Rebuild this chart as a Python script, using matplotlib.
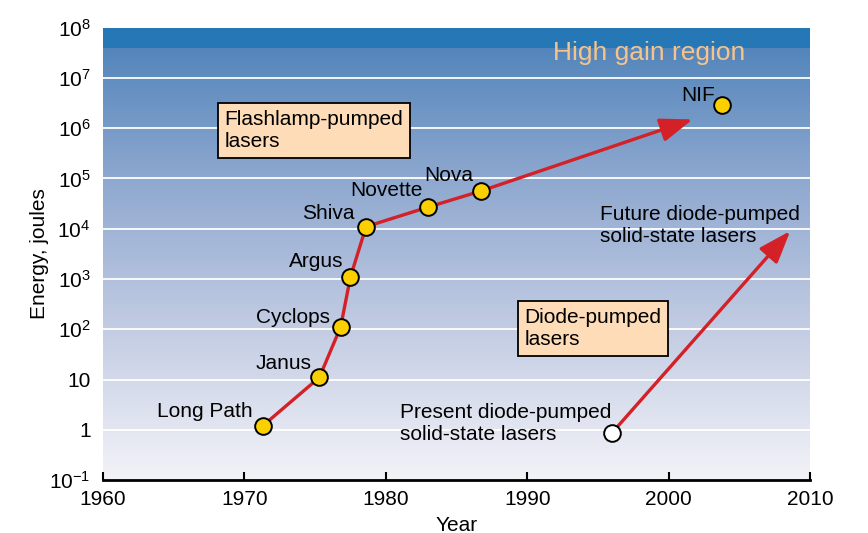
import matplotlib
matplotlib.use("Agg")
import matplotlib.pyplot as plt
import matplotlib.colors as mcolors
import numpy as np

plt.rcParams['font.family'] = ['Liberation Sans', 'DejaVu Sans']
plt.rcParams['mathtext.fontset'] = 'custom'
plt.rcParams['mathtext.rm'] = 'Liberation Sans'
plt.rcParams['mathtext.it'] = 'Liberation Sans:italic'
plt.rcParams['mathtext.bf'] = 'Liberation Sans:bold'

# flashlamp-pumped lasers
lasers = ['Long Path', 'Janus', 'Cyclops', 'Argus', 'Shiva', 'Novette', 'Nova']
years = [1971.3, 1975.3, 1976.8, 1977.5, 1978.6, 1983.0, 1986.7]
energy = [1.2, 11, 110, 1100, 1.1e4, 2.7e4, 5.6e4]
# label offsets in pixels from the point
label_dx = [-10, -8, -11, -7, -11, -6, -7]
label_dy = [14, 14, 10, 15, 13, 17, 16]

# NIF and the trend arrow
nif_year, nif_energy = 2003.8, 2.9e6
flash_arrow_end = (2001.7, 1.5e6)

# diode-pumped
diode_year, diode_energy = 1996.0, 0.87
diode_arrow_end = (2008.6, 9.0e3)

xticks = [1960, 1970, 1980, 1990, 2000, 2010]
yticks = [1e-1, 1, 10, 1e2, 1e3, 1e4, 1e5, 1e6, 1e7, 1e8]
ytick_labels = ['$10^{-1}$', '1', '10', '$10^2$', '$10^3$', '$10^4$',
                '$10^5$', '$10^6$', '$10^7$', '$10^8$']
high_gain_from = 4e7

red = '#d42027'
yellow = '#fcd000'
peach = '#fddcb7'

fig = plt.figure(figsize=(8.68, 5.33), dpi=100)
ax = fig.add_axes([0.1187, 0.0994, 0.8145, 0.8486])
ax.set_yscale('log')
ax.set_xlim(1960, 2010)
ax.set_ylim(1e-1, 1e8)

# background gradient
cmap = mcolors.LinearSegmentedColormap.from_list(
    'bg', ['#f3f3f8', '#c3cce3', '#8ea8cf', '#4a80b8'])
grad = np.linspace(0, 1, 256).reshape(-1, 1)
ax.imshow(grad, cmap=cmap, origin='lower', aspect='auto',
          extent=[0, 1, 0, 1], transform=ax.transAxes, zorder=0)
ax.axhspan(high_gain_from, 1e8, color='#2577b5', zorder=0.5, lw=0)

for y in yticks[1:-1]:
    ax.axhline(y, color='white', lw=1.3, zorder=1)

# flashlamp line
ax.plot(years, energy, color=red, lw=2.4, zorder=3)
arrow = dict(arrowstyle='-|>,head_length=1.1,head_width=0.4',
             color=red, lw=2.4, shrinkA=0, shrinkB=0, mutation_scale=18)
ax.annotate('', xy=flash_arrow_end, xytext=(years[-1], energy[-1]),
            arrowprops=arrow, zorder=3)
ax.annotate('', xy=diode_arrow_end, xytext=(diode_year, diode_energy),
            arrowprops=arrow, zorder=3)

ax.plot(years, energy, 'o', ms=12, mfc=yellow, mec='black', mew=1.4, zorder=4)
ax.plot([nif_year], [nif_energy], 'o', ms=12, mfc=yellow, mec='black', mew=1.4, zorder=4)
ax.plot([diode_year], [diode_energy], 'o', ms=12, mfc='white', mec='black', mew=1.4, zorder=4)

fs = 15
for name, x, y, dx, dy in zip(lasers, years, energy, label_dx, label_dy):
    ax.annotate(name, (x, y), xytext=(dx, dy), textcoords='offset pixels',
                ha='right', va='center', fontsize=fs, zorder=5)
ax.annotate('NIF', (nif_year, nif_energy), xytext=(-7, 9), textcoords='offset pixels',
            ha='right', va='center', fontsize=fs, zorder=5)
ax.annotate('Present diode-pumped\nsolid-state lasers', (diode_year, diode_energy),
            xytext=(-1, 9), textcoords='offset pixels', ha='right', va='center',
            multialignment='left', fontsize=fs, zorder=5)
ax.annotate('Future diode-pumped\nsolid-state lasers', diode_arrow_end,
            xytext=(10, 6), textcoords='offset pixels', ha='right', va='center',
            multialignment='left', fontsize=fs, zorder=5)

ax.text(1998.6, 10**7.5, 'High gain region', color='#f5c48c', fontsize=19,
        ha='center', va='center', zorder=5)

box = dict(boxstyle='square,pad=0.33', fc=peach, ec='black', lw=1.3)
ax.text(1968.6, 10**5.96, 'Flashlamp-pumped\nlasers', fontsize=fs, ha='left',
        va='center', bbox=box, zorder=5)
ax.text(1989.8, 10**2.02, 'Diode-pumped\nlasers', fontsize=fs, ha='left',
        va='center', bbox=box, zorder=5)

ax.set_xticks(xticks)
ax.set_yticks(yticks)
ax.set_yticklabels(ytick_labels)
ax.minorticks_off()
ax.tick_params(axis='x', direction='in', length=6, width=1.5, pad=7, labelsize=fs)
ax.tick_params(axis='y', length=0, pad=9, labelsize=fs)
for s in ['left', 'right', 'top']:
    ax.spines[s].set_visible(False)
ax.spines['bottom'].set_linewidth(2)
ax.spines['bottom'].set_zorder(6)

ax.set_xlabel('Year', fontsize=fs, labelpad=5)
ax.set_ylabel('Energy, joules', fontsize=fs, labelpad=0)

fig.savefig('out.png', dpi=100)
